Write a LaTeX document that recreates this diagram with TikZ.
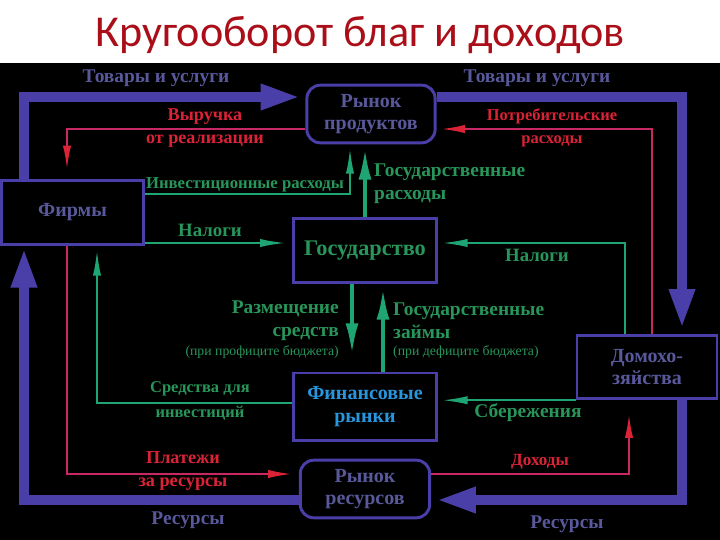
\documentclass[tikz,border=0pt]{standalone}
\usepackage{fontspec}
\setmainfont{Liberation Serif}
\newfontfamily\titlefont{Carlito}
\usetikzlibrary{arrows.meta,positioning}
\definecolor{FrameBlue}{RGB}{74,62,168}
\definecolor{NodeText}{RGB}{88,88,155}
\definecolor{FlowRed}{RGB}{200,40,100}
\definecolor{LabelRed}{RGB}{218,35,55}
\definecolor{FlowGreen}{RGB}{30,165,115}
\definecolor{LabelGreen}{RGB}{40,150,90}
\definecolor{FinBlue}{RGB}{40,150,220}
\definecolor{TitleRed}{RGB}{170,15,25}
\tikzset{
  agentbox/.style={draw=FrameBlue,line width=2.5pt,fill=black,align=center,
    text=NodeText,inner sep=0pt,font=\bfseries\fontsize{17}{19}\selectfont},
  marketbox/.style={agentbox,rounded corners=4mm},
  realflow/.style={-{Triangle[length=34pt,width=20pt]},line width=8.5pt,
    draw=FrameBlue,shorten >=4pt},
  cashflow/.style={-{Latex[length=20pt,width=7pt,color=LabelRed]},
    line width=1.6pt,draw=FlowRed,shorten >=4pt},
  govflow/.style={-{Latex[length=22pt,width=7pt]},line width=1.8pt,
    draw=FlowGreen,shorten >=3pt},
  fundflow/.style={-{Latex[length=28pt,width=11pt]},line width=3.8pt,
    draw=FlowGreen,shorten >=2pt},
  flowlabel/.style={inner sep=0pt,align=center,
    font=\bfseries\fontsize{16.5}{19.5}\selectfont},
  goodslabel/.style={flowlabel,text=NodeText},
  moneylabel/.style={flowlabel,text=LabelRed},
  budgetlabel/.style={flowlabel,text=LabelGreen},
  notelabel/.style={inner sep=0pt,text=LabelGreen,
    font=\fontsize{11.7}{13}\selectfont},
}

\begin{document}
\begin{tikzpicture}[x=0.85pt,y=-0.85pt]
  \useasboundingbox (0,0) rectangle (720,540);
  \fill[white] (0,0) rectangle (720,63);
  \fill[black] (0,63) rectangle (720,540);
  \node[font=\titlefont\fontsize{37.5}{42}\selectfont,text=TitleRed] (title) at (360,35) {Кругооборот благ и доходов};

  % sectors and markets
  \node[marketbox,minimum width=109pt,minimum height=49pt] (prod) at (371,114) {Рынок\\продуктов};
  \node[agentbox,minimum width=120pt,minimum height=55pt] (firms) at (72.5,212.5) {Фирмы};
  \node[agentbox,minimum width=122pt,minimum height=55pt,text=LabelGreen,
    font=\bfseries\fontsize{19}{21}\selectfont] (gov) at (365,250.5) {Государство};
  \node[agentbox,minimum width=122pt,minimum height=57pt,text=FinBlue] (fin) at (365,406.5) {Финансовые\\рынки};
  \node[agentbox,minimum width=119pt,minimum height=54pt] (home) at (647,367) {Домохо-\\зяйства};
  \node[marketbox,minimum width=110pt,minimum height=49pt] (res) at (365,489) {Рынок\\ресурсов};

  % corners of the paths
  \coordinate (outer nw) at (24,97);
  \coordinate (outer ne) at (682,97);
  \coordinate (outer se) at (682,500);
  \coordinate (outer sw) at (24,500);
  \coordinate (rev) at (67,129);
  \coordinate (cons) at (652,129);
  \coordinate (inc) at (629,474);
  \coordinate (pay) at (67,474);
  \coordinate (inv) at (350,194);
  \coordinate (tax) at (625,243);
  \coordinate (funds) at (97,403);

  % goods and resources
  \draw[realflow] (firms.north -| outer nw) |- (prod.west |- outer nw);
  \draw[realflow] (prod.east |- outer ne) -| (home.north -| outer ne);
  \draw[realflow] (home.south -| outer se) |- (res.east |- outer se);
  \draw[realflow,shorten >=1pt] (res.west |- outer sw) -| (firms.south -| outer sw);

  % money
  \draw[cashflow,shorten >=8pt] (prod.west |- rev) -| (firms.north -| rev);
  \draw[cashflow] (home.north -| cons) |- (prod.east |- cons);
  \draw[cashflow,shorten >=12pt] (res.east |- inc) -| (home.south -| inc);
  \draw[cashflow,shorten >=6pt] (firms.south -| pay) |- (res.west |- pay);

  % state and finance
  \draw[govflow] (firms.east |- inv) -| (prod.south -| inv);
  \draw[fundflow] (gov.north) -- (gov.north |- prod.south);
  \draw[govflow,shorten >=5pt] (firms.east |- tax) -- (gov.west |- tax);
  \draw[govflow] (home.north -| tax) |- (gov.east |- tax);
  \draw[fundflow,shorten >=13pt] (gov.south -| 352,0) -- (fin.north -| 352,0);
  \draw[fundflow] (fin.north -| 383,0) -- (gov.south -| 383,0);
  \draw[govflow] (fin.west |- funds) -| (firms.south -| funds);
  \draw[govflow] (home.south west) -- (fin.east |- home.south west);

  % labels
  \node[goodslabel] (goods l) at (156,78) {Товары и услуги};
  \node[goodslabel] (goods r) at (537,78) {Товары и услуги};
  \node[goodslabel] (resrc l) at (188,520) {Ресурсы};
  \node[goodslabel] (resrc r) at (567,524) {Ресурсы};
  \node[moneylabel,font=\bfseries\fontsize{15.4}{20}\selectfont] (rev l) at (205,128) {Выручка\\от реализации};
  \node[moneylabel,font=\bfseries\fontsize{14}{20}\selectfont] (cons l) at (552,128) {Потребительские\\расходы};
  \node[moneylabel,font=\bfseries\fontsize{15.5}{20}\selectfont] (pay l) at (183,471) {Платежи\\за ресурсы};
  \node[moneylabel,font=\bfseries\fontsize{14.5}{16}\selectfont] (inc l) at (540,462) {Доходы};
  \node[budgetlabel,font=\bfseries\fontsize{14.2}{16}\selectfont] (inv l) at (245,185) {Инвестиционные расходы};
  \node[budgetlabel,align=left,anchor=west] (gspend l) at (374,184) {Государственные\\расходы};
  \node[budgetlabel,font=\bfseries\fontsize{16}{18}\selectfont] (tax l) at (210,230) {Налоги};
  \node[budgetlabel,font=\bfseries\fontsize{16}{18}\selectfont] (tax r) at (537,255) {Налоги};
  \node[budgetlabel,align=right,anchor=east] (dep l) at (339,321) {Размещение\\средств};
  \node[notelabel,anchor=east] (dep n) at (339,352) {(при профиците бюджета)};
  \node[budgetlabel,align=left,anchor=west] (loan l) at (393,321) {Государственные\\займы};
  \node[notelabel,anchor=west] (loan n) at (393,352) {(при дефиците бюджета)};
  \node[budgetlabel,font=\bfseries\fontsize{14}{22}\selectfont] (funds l) at (200,401) {Средства для\\инвестиций};
  \node[budgetlabel] (save l) at (528,413) {Сбережения};
\end{tikzpicture}
\end{document}
